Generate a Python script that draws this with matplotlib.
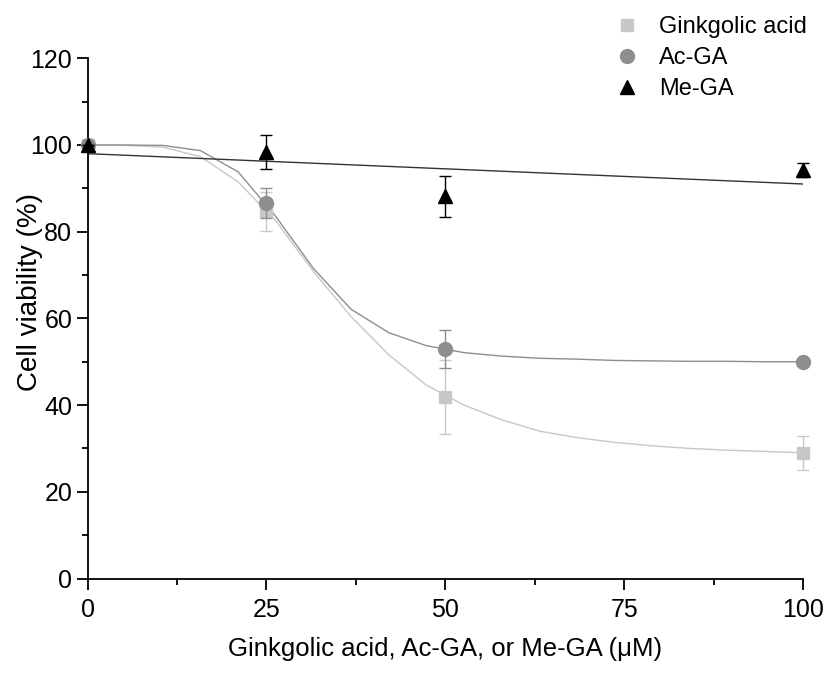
import matplotlib
matplotlib.use("Agg")
import matplotlib.pyplot as plt
from matplotlib.ticker import MultipleLocator

# measured points (mean +/- error)
conc = [0, 25, 50, 100]
ga_mean = [100, 84.7, 41.9, 29.0]
ga_err = [0, 4.5, 8.5, 3.9]
ac_mean = [100, 86.6, 52.9, 50.0]
ac_err = [0, 3.4, 4.4, 0.5]
me_mean = [100, 98.4, 88.2, 94.2]
me_err = [0, 4.0, 4.7, 1.7]

# fitted curves
fit_x = [0, 5.26, 10.53, 15.79, 21.05, 26.32, 31.58, 36.84, 42.11, 47.37,
         52.63, 57.89, 63.16, 68.42, 73.68, 78.95, 84.21, 89.47, 94.74, 100]
ga_fit = [100, 99.9, 99.5, 97.3, 91.5, 82.5, 70.8, 60.4, 51.6, 44.6,
          40.0, 36.6, 34.0, 32.5, 31.4, 30.6, 30.0, 29.6, 29.3, 29.0]
ac_fit = [100, 100, 99.9, 98.7, 93.8, 83.5, 71.5, 62.1, 56.7, 53.7,
          52.1, 51.3, 50.8, 50.6, 50.3, 50.2, 50.1, 50.1, 50.0, 50.0]
me_fit_x = [0, 100]
me_fit = [98.0, 91.0]

c_ga = "#c8c8c8"
c_ac = "#8e8e8e"
c_me = "#000000"

plt.rcParams['font.family'] = ['Liberation Sans', 'DejaVu Sans']

fig = plt.figure(figsize=(8.28, 6.76), dpi=100)
ax = fig.add_axes([0.1057, 0.1442, 0.8641, 0.7696])

ax.plot(fit_x, ga_fit, color=c_ga, lw=1.0, zorder=2)
ax.plot(fit_x, ac_fit, color=c_ac, lw=1.0, zorder=2)
ax.plot(me_fit_x, me_fit, color="#333333", lw=1.0, zorder=2)

ax.errorbar(conc, ga_mean, yerr=ga_err, fmt='s', color=c_ga, ms=8.5,
            capsize=4.3, elinewidth=1, capthick=1, label='Ginkgolic acid',
            zorder=3, clip_on=False)
ax.errorbar(conc, ac_mean, yerr=ac_err, fmt='o', color=c_ac, ms=10,
            capsize=4.3, elinewidth=1, capthick=1, label='Ac-GA',
            zorder=4, clip_on=False)
ax.errorbar(conc, me_mean, yerr=me_err, fmt='^', color=c_me, ms=10.5,
            capsize=4.3, elinewidth=1, capthick=1, label='Me-GA',
            zorder=5, clip_on=False)

ax.set_xlim(0, 100)
ax.set_ylim(0, 120)
ax.xaxis.set_major_locator(MultipleLocator(25))
ax.xaxis.set_minor_locator(MultipleLocator(12.5))
ax.yaxis.set_major_locator(MultipleLocator(20))
ax.yaxis.set_minor_locator(MultipleLocator(10))

for s in ['top', 'right']:
    ax.spines[s].set_visible(False)
for s in ['left', 'bottom']:
    ax.spines[s].set_linewidth(1.3)

ax.tick_params(axis='both', which='major', direction='out', length=8,
               width=1.3, labelsize=18)
ax.tick_params(axis='x', which='major', pad=6)
ax.tick_params(axis='y', which='major', pad=3)
ax.tick_params(axis='both', which='minor', direction='out', length=4,
               width=1.3)

ax.set_xlabel('Ginkgolic acid, Ac-GA, or Me-GA (\u03bcM)', fontsize=18.5,
              labelpad=11)
ax.set_ylabel('Cell viability (%)', fontsize=20)
ax.yaxis.set_label_coords(-0.062, 0.55)

handles, labels = ax.get_legend_handles_labels()
handles = [h[0] for h in handles]
ax.legend(handles, labels, loc='upper left', bbox_to_anchor=(0.700, 1.122),
          frameon=False, fontsize=17, handletextpad=0.6,
          labelspacing=0.38, handlelength=1.5)

fig.savefig('out.png', dpi=100)
